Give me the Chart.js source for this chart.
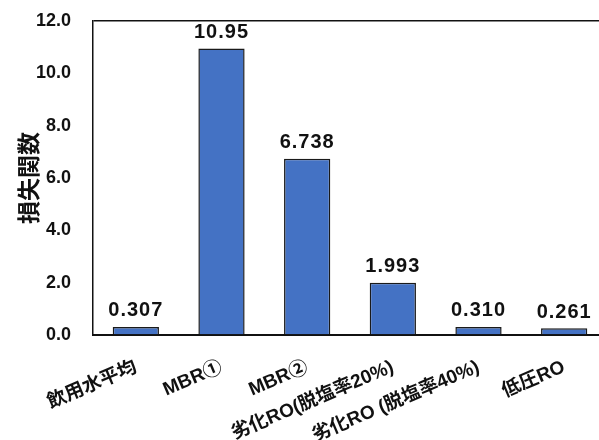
<!DOCTYPE html>
<html>
<head>
<meta charset="utf-8">
<script src="https://cdn.jsdelivr.net/npm/chart.js@4"></script>
<style>
  html, body { margin: 0; padding: 0; background: #fff; overflow: hidden; }
  #wrap { width: 607px; height: 440px; }
</style>
</head>
<body>
<div id="wrap"><canvas id="lossChart"></canvas></div>
<script>
// Data
const categories = ['飲用水平均', 'MBR①', 'MBR②', '劣化RO(脱塩率20%)', '劣化RO (脱塩率40%)', '低圧RO'];
const lossValues = [0.307, 10.95, 6.738, 1.993, 0.310, 0.261];
const valueLabels = ['0.307', '10.95', '6.738', '1.993', '0.310', '0.261'];
const yTicks = [0, 2, 4, 6, 8, 10, 12];

const FONT = "'Liberation Sans', Arial, 'Noto Sans CJK JP', sans-serif";

// Value labels drawn above each bar
const barLabels = {
    id: 'barLabels',
    afterDatasetsDraw(chart) {
        const ctx = chart.ctx;
        const meta = chart.getDatasetMeta(0);
        ctx.save();
        ctx.font = 'bold 20px ' + FONT;
        ctx.letterSpacing = '1px';
        ctx.fillStyle = '#111';
        ctx.textAlign = 'center';
        ctx.textBaseline = 'bottom';
        meta.data.forEach((bar, i) => {
            ctx.fillText(valueLabels[i], bar.x, bar.y - 6);
        });
        ctx.restore();
    }
};

const ctx = document.getElementById('lossChart').getContext('2d');
new Chart(ctx, {
    type: 'bar',
    data: {
        labels: categories,
        datasets: [{
            data: lossValues,
            backgroundColor: '#4472C4',
            borderColor: '#1a1a1a',
            borderWidth: 1.5,
            barPercentage: 0.54,
            categoryPercentage: 1.0
        }]
    },
    options: {
        responsive: true,
        maintainAspectRatio: false,
        animation: false,
        layout: { padding: { top: 21, right: 0, bottom: 0, left: 0 } },
        plugins: {
            legend: { display: false },
            tooltip: { enabled: false }
        },
        scales: {
            x: {
                grid: { display: false, drawTicks: false },
                border: { color: '#111', width: 2 },
                ticks: {
                    autoSkip: false,
                    minRotation: 23,
                    maxRotation: 23,
                    padding: 21,
                    color: '#111',
                    font: { family: FONT, size: 19, weight: 'bold' }
                },
                afterFit(scale) {
                    scale.height = 105;
                    scale.paddingTop = 0;
                }
            },
            y: {
                min: 0,
                max: 12,
                afterBuildTicks(scale) {
                    scale.ticks = yTicks.map(v => ({ value: v }));
                },
                grid: {
                    drawTicks: false,
                    color: c => (c.tick && c.tick.value === 12 ? '#111' : 'rgba(0,0,0,0)'),
                    lineWidth: 1.5
                },
                border: { color: '#111', width: 1.5 },
                ticks: {
                    padding: 22,
                    color: '#111',
                    font: { family: FONT, size: 18, weight: 'bold' },
                    callback: v => v.toFixed(1)
                },
                title: {
                    display: true,
                    text: '損失関数',
                    color: '#111',
                    padding: { top: 14, bottom: 0 },
                    font: { family: "'Noto Sans CJK JP', sans-serif", size: 23, weight: 'bold' }
                },
                afterFit(scale) {
                    scale.width = 93;
                    scale.paddingTop = 0;
                }
            }
        }
    },
    plugins: [barLabels]
});
</script>
</body>
</html>
